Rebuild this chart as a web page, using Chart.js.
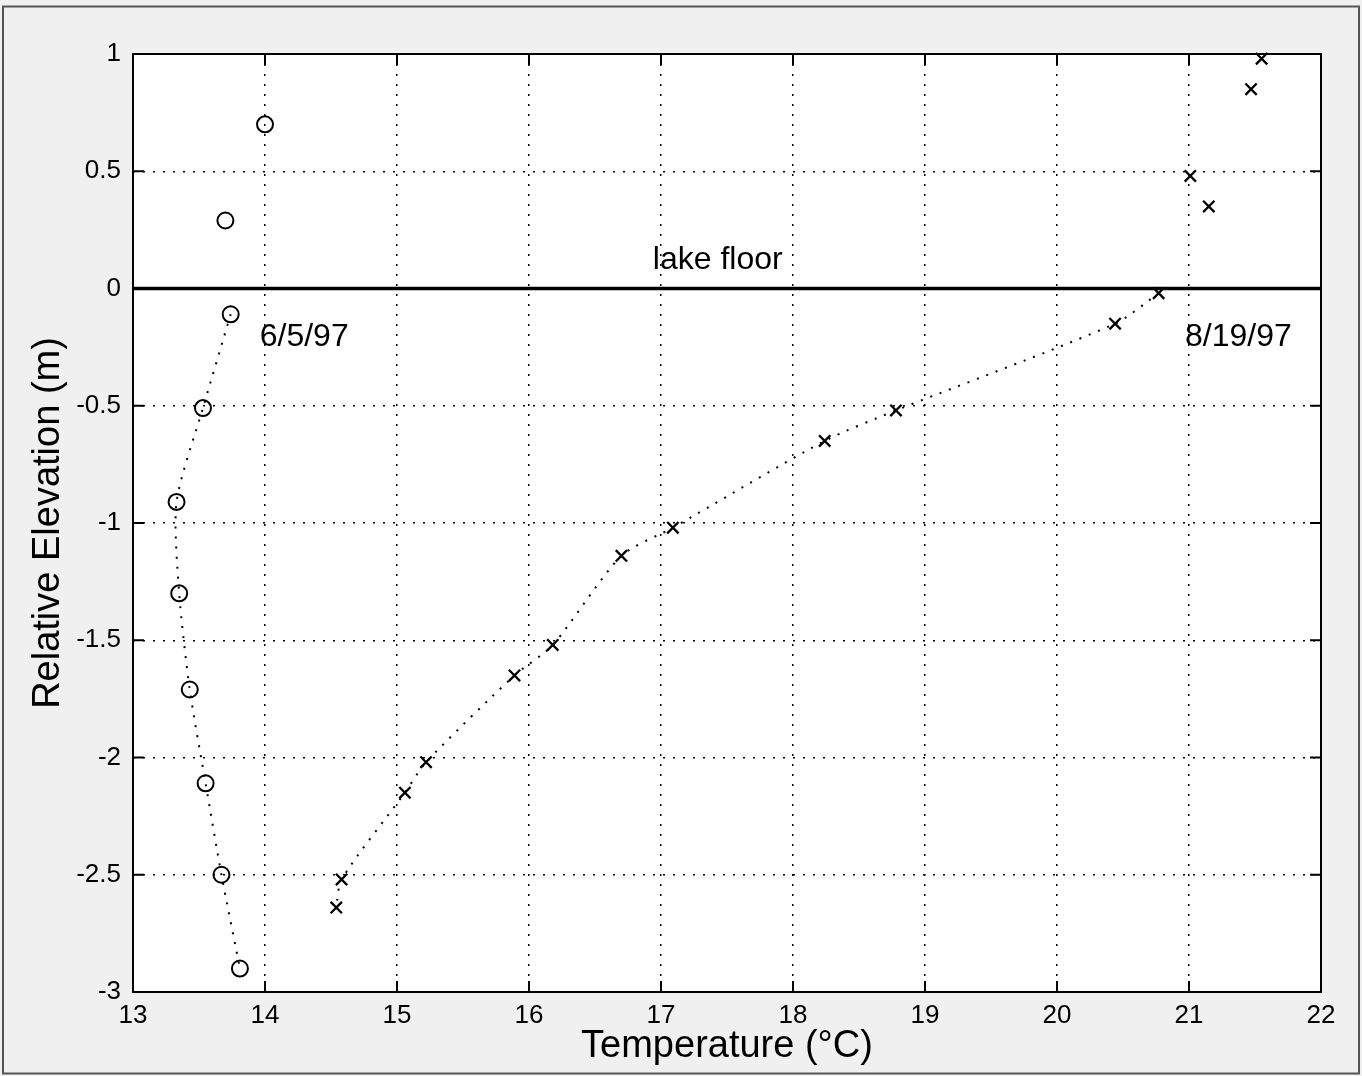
<!DOCTYPE html>
<html>
<head>
<meta charset="utf-8">
<script src="https://cdn.jsdelivr.net/npm/chart.js@4.4.1/dist/chart.umd.min.js"></script>
<style>
  html, body { margin: 0; padding: 0; background: #f0f0f0; }
  #wrap { width: 1362px; height: 1076px; }
</style>
</head>
<body>
<div id="wrap"><canvas id="tempChart" width="1362" height="1076"></canvas></div>
<script>
// 6/5/97 profile (circles)
const juneTemp = [14.0, 13.70, 13.74, 13.53, 13.33, 13.35, 13.43, 13.55, 13.67, 13.81];
const juneElev = [0.70, 0.29, -0.11, -0.51, -0.91, -1.30, -1.71, -2.11, -2.50, -2.90];

// 8/19/97 profile (crosses)
const augTemp = [21.55, 21.47, 21.01, 21.15, 20.77, 20.44, 18.78, 18.24, 17.09, 16.70, 16.18, 15.89, 15.22, 15.06, 14.58, 14.54];
const augElev = [0.98, 0.85, 0.48, 0.35, -0.02, -0.15, -0.52, -0.65, -1.02, -1.14, -1.52, -1.65, -2.02, -2.15, -2.52, -2.64];

// lake floor line
const floorTemp = [13, 22];
const floorElev = [0, 0];

// axis ticks
const tempTicks = [13, 14, 15, 16, 17, 18, 19, 20, 21, 22];
const elevTicks = [1, 0.5, 0, -0.5, -1, -1.5, -2, -2.5, -3];

const labelFont = '"Liberation Sans", Arial, Helvetica, sans-serif';

const toPoints = (xs, ys) => xs.map((x, i) => ({ x: x, y: ys[i] }));
// only the sub-floor readings are joined by the dotted curve
const belowFloor = (xs, ys) => toPoints(xs, ys).filter((p) => p.y <= 0);

const figurePlugin = {
  id: 'figure',
  beforeDraw(chart) {
    const { ctx, chartArea: a, width, height } = chart;
    ctx.save();
    ctx.fillStyle = '#f0f0f0';
    ctx.fillRect(0, 0, width, height);
    ctx.strokeStyle = '#555';
    ctx.lineWidth = 2;
    ctx.strokeRect(3, 6.5, width - 6, height - 9);
    ctx.fillStyle = '#ffffff';
    ctx.fillRect(a.left, a.top, a.right - a.left, a.bottom - a.top);
    ctx.restore();
  },
  afterDraw(chart) {
    const { ctx, chartArea: a } = chart;
    const xs = chart.scales.x;
    const ys = chart.scales.y;
    ctx.save();
    ctx.strokeStyle = '#000';
    ctx.lineWidth = 2;
    ctx.strokeRect(a.left, a.top, a.right - a.left, a.bottom - a.top);

    // inward tick marks on all four sides
    ctx.beginPath();
    tempTicks.forEach((t) => {
      const px = xs.getPixelForValue(t);
      ctx.moveTo(px, a.bottom); ctx.lineTo(px, a.bottom - 11);
      ctx.moveTo(px, a.top); ctx.lineTo(px, a.top + 11);
    });
    elevTicks.forEach((t) => {
      const py = ys.getPixelForValue(t);
      ctx.moveTo(a.left, py); ctx.lineTo(a.left + 11, py);
      ctx.moveTo(a.right, py); ctx.lineTo(a.right - 11, py);
    });
    ctx.stroke();

    // annotations
    const floorY = ys.getPixelForValue(0);
    ctx.fillStyle = '#000';
    ctx.font = '32px ' + labelFont;
    ctx.textBaseline = 'alphabetic';
    ctx.textAlign = 'center';
    ctx.fillText('lake floor', xs.getPixelForValue(17.43), floorY - 20);
    ctx.textAlign = 'left';
    ctx.fillText('6/5/97', xs.getPixelForValue(13.96), floorY + 57);
    ctx.fillText('8/19/97', xs.getPixelForValue(20.97), floorY + 57);
    ctx.restore();
  },
};

const tempChart = new Chart(document.getElementById('tempChart'), {
  type: 'scatter',
  data: {
    datasets: [
      {
        label: '6/5/97 curve',
        data: belowFloor(juneTemp, juneElev),
        showLine: true,
        borderColor: '#000',
        borderWidth: 2,
        borderDash: [2, 8],
        tension: 0.25,
        pointRadius: 0,
      },
      {
        label: '8/19/97 curve',
        data: belowFloor(augTemp, augElev),
        showLine: true,
        borderColor: '#000',
        borderWidth: 2,
        borderDash: [2, 8],
        tension: 0.25,
        pointRadius: 0,
      },
      {
        label: 'lake floor',
        data: toPoints(floorTemp, floorElev),
        showLine: true,
        borderColor: '#000',
        borderWidth: 3.5,
        pointRadius: 0,
      },
      {
        label: '6/5/97',
        data: toPoints(juneTemp, juneElev),
        pointStyle: 'circle',
        pointRadius: 8,
        pointBorderWidth: 2,
        borderColor: '#000',
        backgroundColor: 'rgba(0,0,0,0)',
        clip: false,
      },
      {
        label: '8/19/97',
        data: toPoints(augTemp, augElev),
        pointStyle: 'crossRot',
        pointRadius: 8,
        pointBorderWidth: 2.3,
        borderColor: '#000',
        backgroundColor: '#000',
        clip: false,
      },
    ],
  },
  options: {
    responsive: false,
    animation: false,
    layout: { padding: { left: 0, right: 41, top: 54, bottom: 0 } },
    plugins: {
      legend: { display: false },
      tooltip: { enabled: false },
    },
    scales: {
      x: {
        type: 'linear',
        min: 13,
        max: 22,
        afterBuildTicks: (scale) => { scale.ticks = tempTicks.map((v) => ({ value: v })); },
        afterFit: (scale) => { scale.height = 84; },
        ticks: {
          color: '#000',
          padding: 8,
          font: { family: labelFont, size: 26 },
          callback: (v) => String(v),
        },
        grid: { color: '#000', lineWidth: 1.5, drawTicks: false },
        border: { display: false, dash: [2, 8] },
        title: {
          display: true,
          text: 'Temperature (°C)',
          color: '#000',
          font: { family: labelFont, size: 38 },
          padding: { top: 0, bottom: 7 },
        },
      },
      y: {
        type: 'linear',
        min: -3,
        max: 1,
        afterBuildTicks: (scale) => { scale.ticks = elevTicks.map((v) => ({ value: v })); },
        afterFit: (scale) => { scale.width = 133; },
        ticks: {
          color: '#000',
          padding: 12,
          font: { family: labelFont, size: 26 },
          callback: (v) => String(v),
        },
        grid: { color: '#000', lineWidth: 1.5, drawTicks: false },
        border: { display: false, dash: [2, 8] },
        title: {
          display: true,
          text: 'Relative Elevation (m)',
          color: '#000',
          font: { family: labelFont, size: 38 },
          padding: { top: 26, bottom: 0 },
        },
      },
    },
  },
  plugins: [figurePlugin],
});
</script>
</body>
</html>
